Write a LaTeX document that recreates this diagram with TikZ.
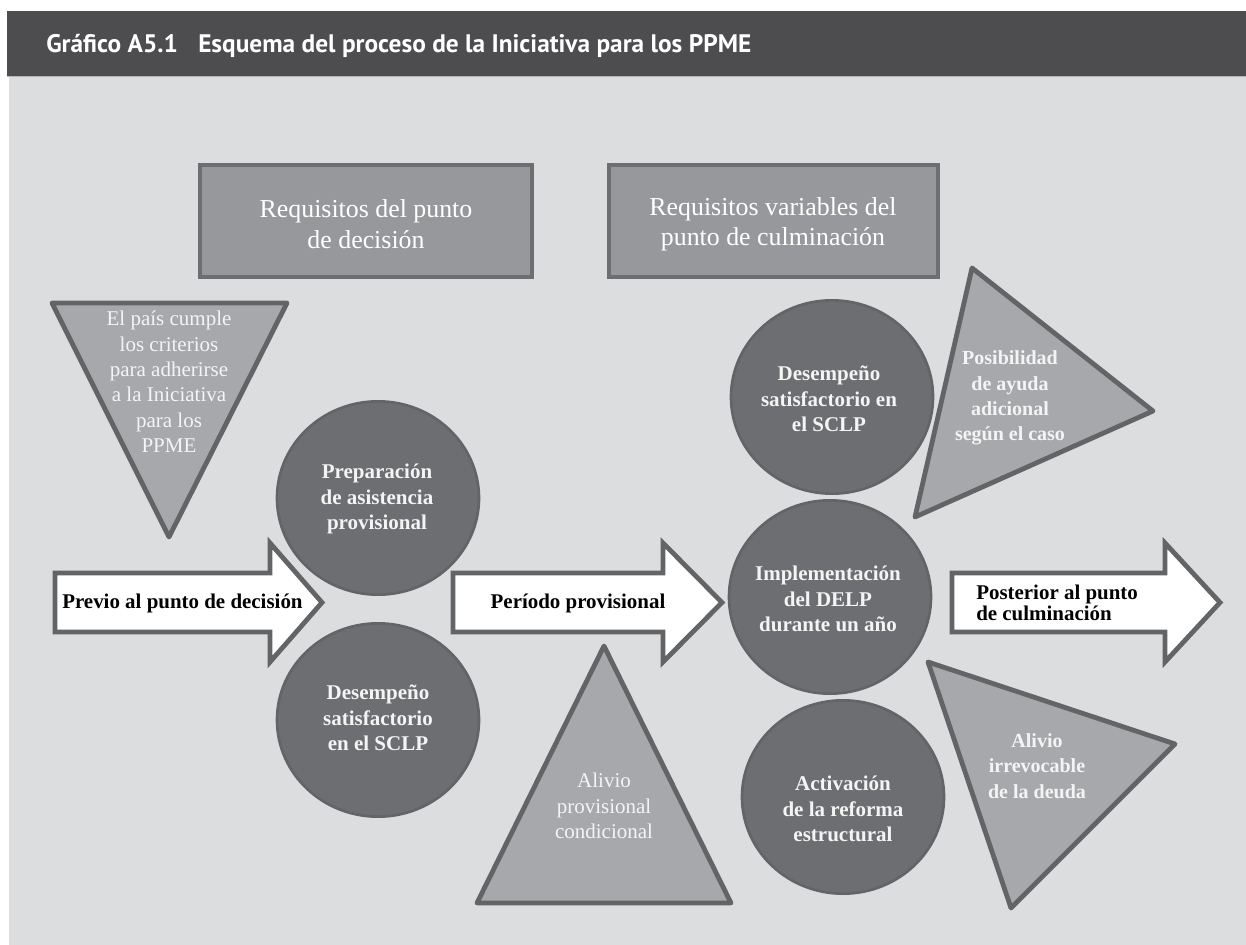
\documentclass[tikz,border=0pt]{standalone}
\usepackage{fontspec}
\setmainfont{Liberation Serif}
\newfontfamily\titlefont{PT Sans}
\usetikzlibrary{shapes.geometric}
\definecolor{hdr}{HTML}{4D4D4F}
\definecolor{bgc}{HTML}{DCDDDF}
\definecolor{sepline}{HTML}{B5B6B8}
\definecolor{boxfill}{HTML}{97989B}
\definecolor{boxline}{HTML}{6D6E71}
\definecolor{trifill}{HTML}{A7A8AB}
\definecolor{edgec}{HTML}{636466}
\definecolor{circfill}{HTML}{6D6E71}
\definecolor{circline}{HTML}{636467}
\definecolor{lighttext}{HTML}{F4F4F4}
\begin{document}
\begin{tikzpicture}[x=0.75pt,y=-0.75pt,
  reqbox/.style={draw=boxline, fill=boxfill, line width=3pt},
  reqtext/.style={text=white, align=center, font=\fontsize{19.4pt}{22.8pt}\selectfont},
  tri/.style={draw=edgec, fill=trifill, line width=3.6pt, line join=round},
  tritext/.style={text=lighttext, align=center, font=\fontsize{15.75pt}{19pt}\selectfont},
  tribold/.style={text=lighttext, align=center, font=\bfseries\fontsize{15pt}{19pt}\selectfont},
  bigarrow/.style={draw=edgec, fill=white, line width=3.6pt, line join=miter},
  arrtext/.style={text=black, font=\bfseries\fontsize{15.7pt}{16pt}\selectfont},
  circ/.style={ellipse, draw=circline, fill=circfill, line width=2pt, inner sep=0pt,
    minimum width=151.5pt, minimum height=145pt},
  circtext/.style={text=lighttext, align=center, font=\bfseries\fontsize{15.75pt}{19pt}\selectfont}
]
\useasboundingbox (0,0) rectangle (1246,945);
% header and background
\fill[hdr] (7,11) rectangle (1246,76);
\fill[bgc] (9,77) rectangle (1246,945);
\draw[sepline, line width=1pt] (7,76.5) -- (1246,76.5);
\node[anchor=base west, text=white, inner sep=0pt,
  font=\titlefont\bfseries\fontsize{19pt}{22pt}\selectfont] (title) at (46,53)
  {Gráfico A5.1\hspace{0.8em}Esquema del proceso de la Iniciativa para los PPME};

% requirement boxes
\draw[reqbox] (200,165) rectangle (532,277);
\node[reqtext] (req1) at (366,224) {Requisitos del punto\\de decisión};
\draw[reqbox] (609,165) rectangle (938,277);
\node[reqtext] (req2) at (773,224) {Requisitos variables del\\punto de culminación};

% triangles
\draw[tri] (52,303) -- (287,303) -- (169,537) -- cycle;
\node[tritext] (pais) at (169,382) {El país cumple\\los criterios\\para adherirse\\a la Iniciativa\\para los\\PPME};

\draw[tri] (604,646) -- (731,903) -- (477,903) -- cycle;
\node[tritext] (aliprov) at (604,806) {Alivio\\provisional\\condicional};

\draw[tri] (972,268) -- (1153,411) -- (915,517) -- cycle;
\node[tribold] (posib) at (1010,398) {Posibilidad\\de ayuda\\adicional\\según el caso};

\draw[tri] (928,662) -- (1175,744) -- (1011,908) -- cycle;
\node[tribold] (aliirr) at (1037,766) {Alivio\\irrevocable\\de la deuda};

% arrows
\draw[bigarrow] (55,573) -- (270,573) -- (270,543) -- (322,602.5) -- (270,662) -- (270,632) -- (55,632) -- cycle;
\node[arrtext, anchor=base west, inner sep=0pt] (previo) at (62,608) {Previo al punto de decisión};

\draw[bigarrow] (453,573) -- (663,573) -- (663,543) -- (722,602.5) -- (663,662) -- (663,632) -- (453,632) -- cycle;
\node[arrtext, anchor=base, inner sep=0pt] (periodo) at (578,608) {Período provisional};

\draw[bigarrow] (952,573) -- (1165,573) -- (1165,543) -- (1220,602.5) -- (1165,662) -- (1165,632) -- (952,632) -- cycle;
\node[arrtext, anchor=west, inner sep=0pt, align=left] (poster) at (976,603) {Posterior al punto\\de culminación};

% circles
\node[circ] (prep) at (378,498) {};
\node[circtext] (preptext) at (377,499) {Preparación\\de asistencia\\provisional};
\node[circ] (desL) at (378,720) {};
\node[circtext] (desLtext) at (378,718) {Desempeño\\satisfactorio\\en el SCLP};
\node[circ] (desR) at (832,397) {};
\node[circtext] (desRtext) at (829,399) {Desempeño\\satisfactorio en\\el SCLP};
\node[circ] (impl) at (830,597) {};
\node[circtext] (impltext) at (828,599) {Implementación\\del DELP\\durante un año};
\node[circ] (act) at (843,797) {};
\node[circtext] (acttext) at (843,809) {Activación\\de la reforma\\estructural};
\end{tikzpicture}
\end{document}
